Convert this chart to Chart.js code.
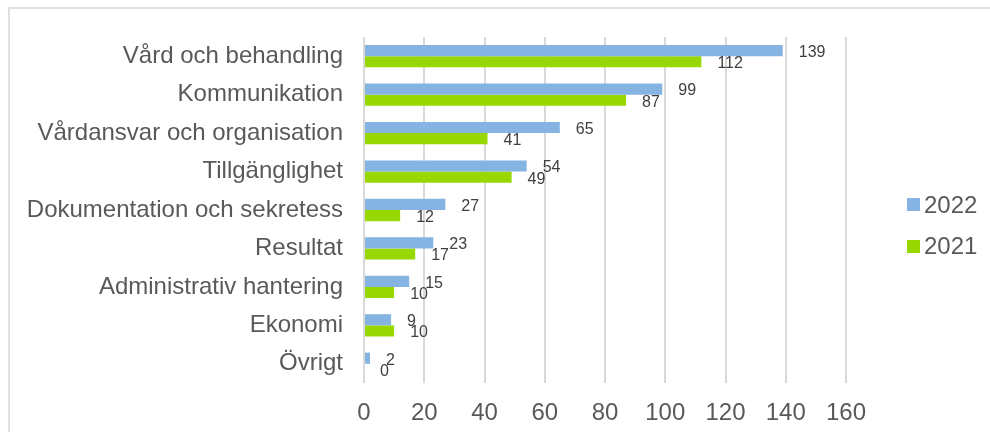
<!DOCTYPE html>
<html>
<head>
<meta charset="utf-8">
<script src="https://cdn.jsdelivr.net/npm/chart.js@4/dist/chart.umd.min.js"></script>
<style>
body{margin:0;background:#fff;font-family:"Liberation Sans",Arial,sans-serif;}
#wrap{position:relative;width:990px;height:432px;overflow:hidden;}
#frame{position:absolute;left:8px;top:7px;width:1000px;height:500px;border-top:2px solid #E0E0E0;border-left:2px solid #E0E0E0;}
#c{position:absolute;left:0;top:0;}
#legend{position:absolute;left:907px;top:184px;}
.item{display:flex;align-items:center;height:41.5px;font-size:24px;color:#595959;}
.box{width:13px;height:13px;margin-right:4px;}
</style>
</head>
<body>
<div id="wrap">
  <div id="frame"></div>
  <canvas id="c" width="990" height="432"></canvas>
  <div id="legend"></div>
</div>
<script>
const categories=['Vård och behandling','Kommunikation','Vårdansvar och organisation','Tillgänglighet','Dokumentation och sekretess','Resultat','Administrativ hantering','Ekonomi','Övrigt'];
const years=['2022','2021'];
const v2022=[139,99,65,54,27,23,15,9,2];
const v2021=[112,87,41,49,12,17,10,10,0];
const xMax=160;
const xStep=20;
const colors=['#85B4E2','#99D700'];

// labels next to each bar end
const valueLabels={
  id:'valueLabels',
  afterDatasetsDraw(chart){
    const ctx=chart.ctx;
    ctx.save();
    ctx.font='16px "Liberation Sans", Arial, sans-serif';
    ctx.fillStyle='#404040';
    ctx.textAlign='left';
    ctx.textBaseline='middle';
    chart.data.datasets.forEach((ds,i)=>{
      chart.getDatasetMeta(i).data.forEach((bar,j)=>{
        ctx.fillText(ds.data[j],bar.x+16,bar.y+2);
      });
    });
    ctx.restore();
  }
};

const series=[v2022,v2021];
const chart=new Chart('c',{
  type:'bar',
  data:{
    labels:categories,
    datasets:years.map((y,i)=>({
      label:y,
      data:series[i],
      backgroundColor:colors[i],
      borderWidth:0,
      barPercentage:1,
      categoryPercentage:0.58
    }))
  },
  options:{
    indexAxis:'y',
    responsive:false,
    animation:false,
    layout:{padding:{top:37,right:144,bottom:0,left:0}},
    plugins:{legend:{display:false},tooltip:{enabled:false}},
    scales:{
      x:{
        min:0,max:xMax,
        ticks:{stepSize:xStep,color:'#595959',font:{family:'"Liberation Sans", Arial, sans-serif',size:24},padding:16},
        grid:{color:'#D9D9D9',lineWidth:2,drawTicks:false},
        border:{display:false},
        afterFit(axis){axis.height=49;}
      },
      y:{
        ticks:{color:'#595959',font:{family:'"Liberation Sans", Arial, sans-serif',size:24},padding:13},
        grid:{display:false},
        border:{display:false},
        afterFit(axis){axis.width=364;}
      }
    }
  },
  plugins:[valueLabels]
});

const legend=document.getElementById('legend');
years.forEach((y,i)=>{
  const item=document.createElement('div');
  item.className='item';
  const box=document.createElement('span');
  box.className='box';
  box.style.background=colors[i];
  const txt=document.createElement('span');
  txt.textContent=y;
  item.appendChild(box);
  item.appendChild(txt);
  legend.appendChild(item);
});
</script>
</body>
</html>
